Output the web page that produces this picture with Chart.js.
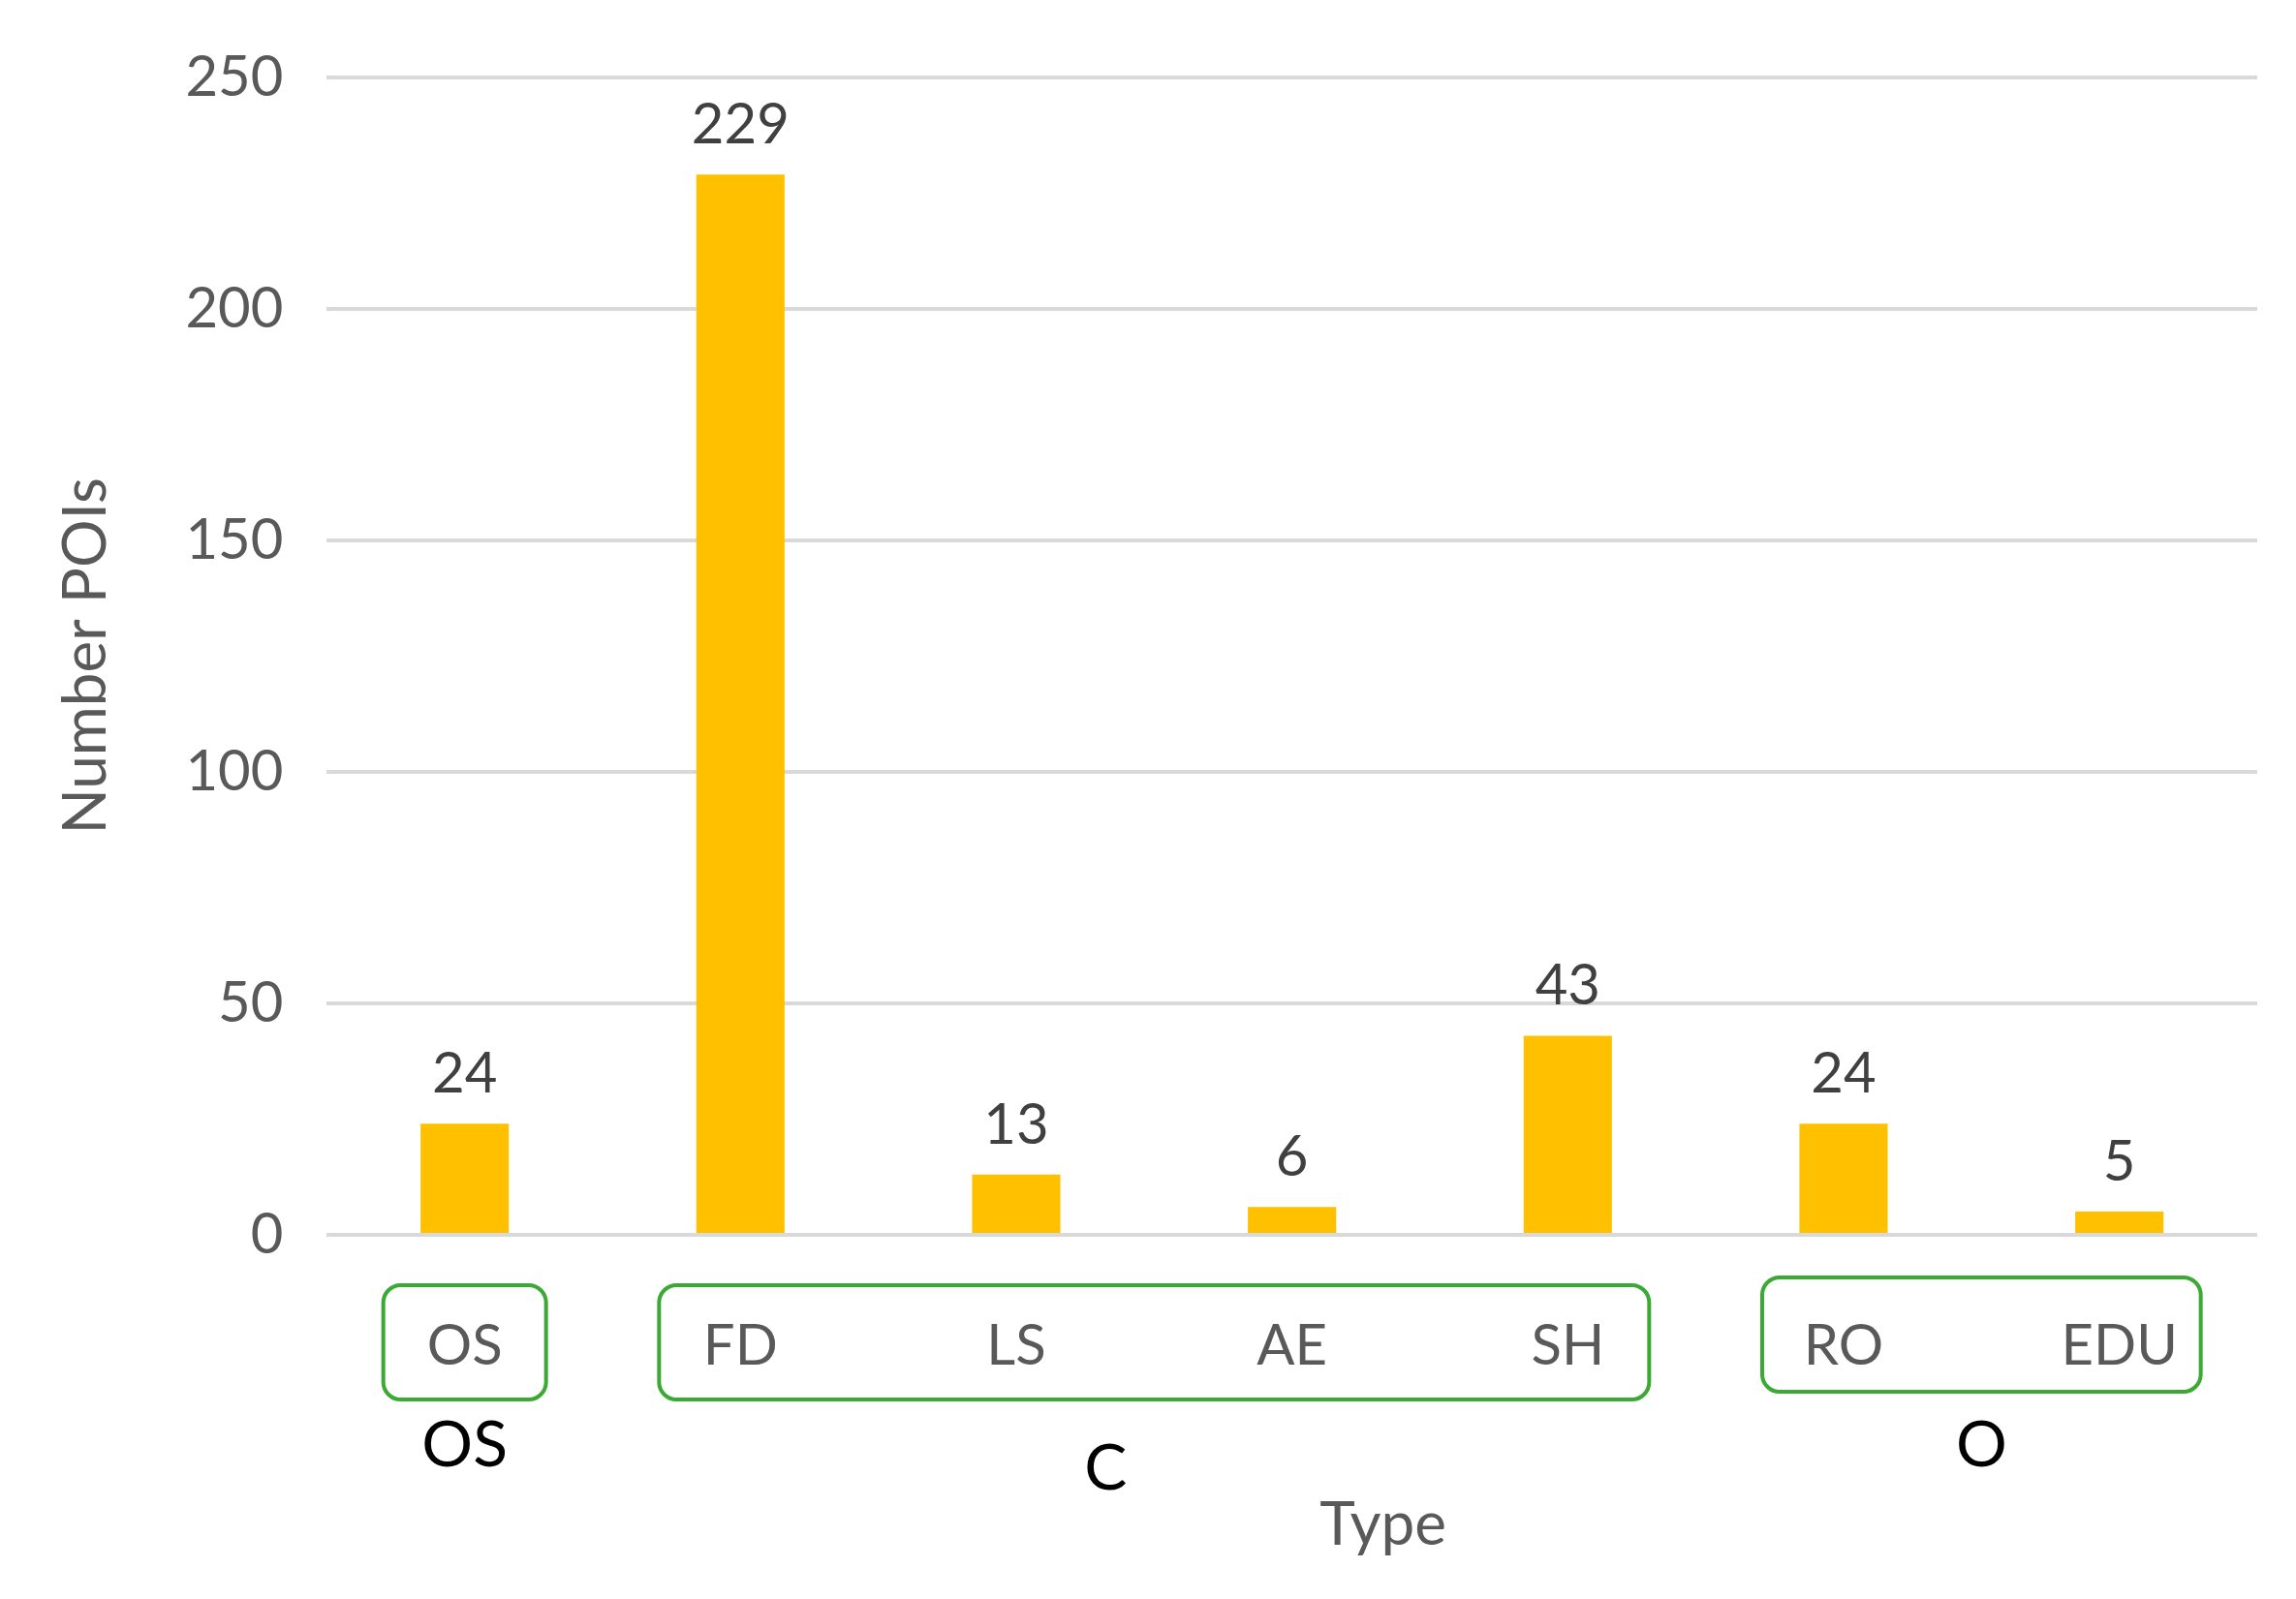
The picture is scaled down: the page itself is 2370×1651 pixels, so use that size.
<!DOCTYPE html>
<html><head><meta charset="utf-8">
<script src="https://cdn.jsdelivr.net/npm/chart.js@4"></script>
<style>html,body{margin:0;padding:0;background:#fff}#w{width:2370px;height:1651px}</style>
</head><body><div id="w"><canvas id="c"></canvas></div>
<script>
const categories = ["OS","FD","LS","AE","SH","RO","EDU"];
const values = [24,229,13,6,43,24,5];
const groups = [{label:"OS",from:0,to:0},{label:"C",from:1,to:4},{label:"O",from:5,to:6}];
const yTicks = [0,50,100,150,200,250];

const FONT = "Lato, 'Open Sans', sans-serif";
const extras = {
  id:'extras',
  afterDatasetsDraw(chart){
    const ctx = chart.ctx, x = chart.scales.x, y = chart.scales.y;
    const meta = chart.getDatasetMeta(0);
    const base = y.getPixelForValue(0);
    ctx.save();
    ctx.fillStyle='#404040'; ctx.font='58px '+FONT; ctx.textAlign='center'; ctx.textBaseline='bottom';
    meta.data.forEach((b,i)=>ctx.fillText(String(values[i]), b.x, b.y-22));
    const labY = [218,242,218];
    const offY = [0,0,-8];
    groups.forEach((g,gi)=>{
      const x1 = x.getPixelForValue(g.from)-84, x2 = x.getPixelForValue(g.to)+84;
      const top = base+52+offY[gi], h = 118;
      ctx.strokeStyle='#3aaa35'; ctx.lineWidth=4;
      ctx.beginPath(); ctx.roundRect(x1, top, x2-x1, h, 18); ctx.stroke();
      ctx.fillStyle='#000'; ctx.font='66px '+FONT; ctx.textBaseline='middle';
      ctx.fillText(g.label, (x1+x2)/2 + (gi===1?-50:0), base+labY[gi]);
    });
    ctx.fillStyle='#595959'; ctx.font='62px '+FONT; ctx.textBaseline='middle';
    ctx.fillText('Type', (x.left+x.right)/2+94, base+300);
    ctx.restore();
  }
};
new Chart(document.getElementById('c'),{
  type:'bar',
  data:{labels:categories,datasets:[{data:values,backgroundColor:'#ffc000',categoryPercentage:1,barPercentage:0.32}]},
  options:{
    responsive:true,maintainAspectRatio:false,animation:false,
    layout:{padding:{left:48,right:40,top:72,bottom:0}},
    plugins:{legend:{display:false},tooltip:{enabled:false}},
    scales:{
      x:{grid:{display:false},border:{display:false},
         ticks:{color:'#595959',font:{size:58,family:FONT},padding:72},
         title:{display:true,text:'Type',color:'rgba(0,0,0,0)',font:{size:62,family:FONT},padding:{top:80,bottom:0}}},
      y:{min:0,max:250,afterBuildTicks(a){a.ticks=yTicks.map(v=>({value:v}));},
         grid:{color:'#d9d9d9',lineWidth:4,drawTicks:false},border:{display:false},
         ticks:{color:'#595959',font:{size:58,family:FONT},padding:45},
         title:{display:true,text:'Number POIs',color:'#595959',font:{size:62,family:FONT},padding:{bottom:20}}}
    }
  },
  plugins:[extras]
});
</script></body></html>
